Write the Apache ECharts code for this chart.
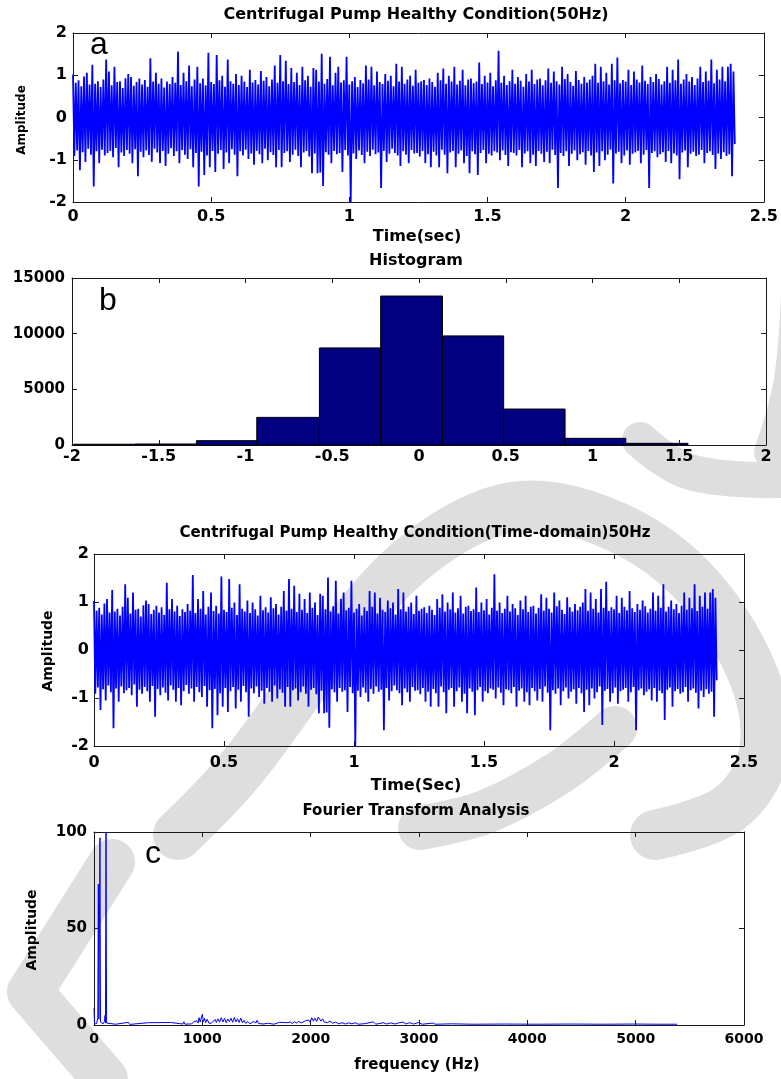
<!DOCTYPE html>
<html>
<head>
<meta charset="UTF-8">
<title>Centrifugal Pump Healthy Condition</title>
<script src="https://cdn.jsdelivr.net/npm/echarts@6/dist/echarts.min.js"></script>
<style>
html,body{margin:0;padding:0;background:#fff;}
#main{width:781px;height:1079px;}
</style>
</head>
<body>
<div id="main"></div>
<script>
// time signal: upper and lower extreme of each 0.01 s column
var sigStep = 0.01;
var sigHi = [
  1.02,0.82,0.88,0.74,0.97,1.06,0.78,1.25,0.80,0.86,
  0.72,0.90,1.37,1.09,0.76,1.20,0.84,0.86,0.70,0.93,
  1.03,0.96,0.75,0.84,0.92,0.78,0.89,0.73,1.40,0.85,
  1.06,0.80,0.92,0.71,0.85,0.79,0.96,0.82,1.56,0.77,
  1.06,0.86,1.23,0.74,0.90,1.20,0.81,0.92,0.76,1.53,
  0.84,0.79,1.48,0.88,0.99,0.73,1.37,0.86,0.80,1.03,
  0.77,0.99,0.85,0.72,1.13,0.83,0.89,0.78,1.10,0.87,
  0.96,0.74,0.90,1.23,0.82,1.48,0.86,1.34,0.79,1.17,
  0.84,1.06,0.77,1.20,0.88,0.99,0.73,1.17,1.13,0.85,
  1.51,0.80,0.91,1.44,0.76,1.06,1.20,0.83,0.88,1.44,
  0.78,0.86,0.96,0.72,0.89,0.81,1.23,0.90,1.20,0.76,
  1.09,0.84,0.79,1.03,0.87,0.99,0.74,1.27,0.85,1.20,
  0.80,0.90,0.99,0.75,1.13,0.82,0.86,0.89,0.77,0.92,
  0.84,0.73,1.06,0.88,1.16,0.80,0.99,0.85,1.20,0.78,
  0.87,1.13,0.76,0.90,0.92,0.81,0.85,1.30,0.79,0.99,
  0.83,1.06,0.74,0.88,1.58,0.82,0.99,0.77,0.86,1.13,
  0.80,0.96,0.87,0.73,1.03,0.85,1.13,0.79,0.90,0.92,
  0.76,0.88,1.16,0.82,1.09,0.86,0.78,1.20,0.91,1.03,
  0.84,0.75,1.10,0.89,0.80,0.96,0.83,0.90,0.99,1.27,
  0.82,1.20,0.86,1.06,0.78,1.27,0.88,1.42,0.81,0.89,
  0.85,1.13,0.77,1.09,0.90,0.83,1.23,0.87,0.79,0.96,
  0.84,1.03,0.91,0.78,0.86,1.20,0.82,1.13,0.88,1.37,
  0.80,0.90,1.03,0.85,0.96,0.77,0.92,1.20,0.84,1.09,
  0.87,1.37,0.81,1.13,0.90,1.20,0.86,1.20,1.27,1.09
];
var sigLo = [
  -0.91,-0.78,-1.25,-0.82,-1.05,-0.74,-0.88,-1.63,-0.80,-1.08,
  -0.76,-0.90,-0.84,-0.79,-0.94,-0.72,-1.18,-0.83,-0.91,-0.77,
  -0.86,-1.08,-0.75,-1.39,-0.81,-0.94,-0.78,-0.89,-1.05,-0.74,
  -0.83,-1.08,-0.79,-1.15,-0.86,-0.73,-0.91,-0.80,-1.08,-0.77,
  -0.88,-0.98,-0.75,-1.18,-0.84,-1.63,-0.81,-1.36,-0.90,-1.18,
  -0.79,-1.29,-0.86,-0.77,-1.22,-0.83,-1.08,-0.75,-0.88,-1.39,
  -0.80,-0.90,-0.76,-0.98,-0.85,-1.12,-0.79,-0.87,-1.08,-0.74,
  -1.01,-0.82,-0.89,-1.18,-0.77,-1.18,-0.84,-0.80,-1.05,-0.88,
  -0.76,-0.91,-1.18,-0.83,-0.79,-0.92,-1.32,-0.85,-1.32,-1.30,
  -1.62,-0.82,-0.88,-1.08,-0.79,-0.87,-0.84,-1.29,-0.77,-0.90,
  -2.00,-0.85,-0.98,-0.78,-0.89,-1.08,-0.81,-0.91,-0.76,-0.87,
  -0.83,-1.67,-0.79,-1.05,-0.86,-0.74,-0.84,-0.90,-1.15,-0.80,
  -0.88,-1.08,-0.77,-0.85,-0.84,-0.92,-0.79,-1.08,-0.87,-1.18,
  -0.81,-0.90,-1.18,-0.76,-0.88,-1.32,-0.83,-0.79,-1.18,-0.86,
  -0.78,-1.08,-0.91,-1.32,-0.80,-0.87,-1.36,-0.84,-0.77,-1.08,
  -0.86,-0.90,-0.80,-0.83,-1.01,-0.78,-0.89,-1.15,-0.82,-0.84,
  -0.90,-0.77,-1.18,-0.85,-0.80,-1.08,-0.88,-1.15,-0.79,-0.86,
  -1.05,-0.81,-1.08,-0.76,-0.89,-1.67,-0.84,-0.91,-0.80,-1.15,
  -0.86,-0.78,-1.01,-0.87,-0.82,-1.12,-0.79,-0.90,-1.29,-0.83,
  -1.15,-0.80,-1.01,-0.88,-0.76,-1.56,-0.85,-0.81,-1.08,-0.90,
  -0.78,-1.12,-0.86,-0.83,-0.79,-1.08,-0.88,-0.77,-1.67,-0.84,
  -0.80,-0.94,-0.87,-0.82,-1.05,-0.79,-1.08,-0.85,-0.90,-1.46,
  -0.83,-0.78,-1.18,-0.86,-0.81,-0.91,-0.88,-0.77,-1.08,-0.84,
  -0.80,-0.89,-1.22,-0.85,-0.98,-0.82,-0.91,-0.87,-1.39,-0.63
];

// histogram: bin edges and counts
var histEdges = [-1.99, -1.637, -1.283, -0.935, -0.574, -0.221, 0.135, 0.488, 0.842, 1.192, 1.55];
var histCounts = [70, 90, 390, 2480, 8720, 13380, 9800, 3230, 600, 150];

// spectrum: frequency (Hz) and amplitude
var fftFreq = [0,5,15,25,35,40,45,50,55,60,70,85,97,102,106,111,116,130,200,318,330,505,515,706,715,
  820,830,840,900,920,930,950,960,970,980,990,1000,1010,1020,1030,1045,1060,1080,1100,1110,1120,1130,
  1145,1160,1175,1190,1205,1220,1235,1250,1265,1280,1295,1310,1325,1340,1355,1370,1385,1400,1420,1440,
  1470,1485,1495,1505,1520,1560,1610,1660,1712,1730,1790,1810,1830,1850,1870,1890,1910,1930,1950,1965,
  1980,1995,2010,2025,2040,2055,2070,2085,2095,2110,2125,2140,2155,2180,2200,2230,2260,2290,2320,2350,
  2380,2410,2440,2500,2579,2600,2672,2700,2740,2780,2811,2853,2880,2914,2950,2995,3030,3131,3150,3300,
  3500,3800,4100,4400,4700,5000,5200,5383];
var fftAmp = [8.7,0.5,1.0,0.8,4.0,73,3.0,2.0,97,1.5,0.8,0.6,2.0,5.0,1.0,100,1.0,0.5,0.4,1.4,0.3,1.2,0.3,1.3,0.3,
  0.5,1.7,0.4,0.6,1.5,0.7,2.2,1.0,3.8,1.5,2.5,5.6,1.8,3.5,1.2,3.0,1.0,0.8,2.0,1.0,2.8,1.3,
  3.2,1.5,3.8,1.6,3.4,1.2,3.1,1.7,3.5,1.4,3.9,1.6,3.2,1.3,3.6,1.1,2.4,0.9,1.8,0.6,
  1.8,2.6,1.1,2.4,0.8,0.5,0.9,0.4,1.4,0.4,1.2,1.6,0.8,1.7,1.0,1.9,1.1,1.5,2.2,1.2,
  2.6,1.5,3.8,2.0,3.5,1.8,4.1,5.0,2.0,3.2,1.5,2.4,1.2,2.1,0.9,1.5,0.6,1.2,0.5,1.1,
  0.6,1.2,0.4,0.7,1.6,0.4,1.2,0.5,1.1,0.5,1.1,1.5,0.5,1.2,0.5,1.3,0.4,1.0,0.4,0.6,
  0.4,0.5,0.4,0.5,0.4,0.5,0.4,0.4];

var sigData = [];
for (var i = 0; i < sigHi.length; i++) {
  sigData.push([i * sigStep, sigHi[i]]);
  sigData.push([i * sigStep + sigStep / 2, sigLo[i]]);
}
var histData = [];
for (var j = 0; j < histCounts.length; j++) {
  histData.push([histEdges[j], histEdges[j + 1], histCounts[j]]);
}
var fftData = [];
for (var k = 0; k < fftFreq.length; k++) {
  fftData.push([fftFreq[k], fftAmp[k]]);
}

var frameColor = '#1a1a1a';
var boldFont = 'DejaVu Sans';

function axisPair(dir, gi, min, max, step, fontSize, margin) {
  var base = {
    type: 'value', gridIndex: gi, min: min, max: max, interval: step,
    axisLine: { onZero: false, lineStyle: { color: frameColor, width: 1 } },
    axisTick: { inside: true, length: 5, lineStyle: { color: frameColor } },
    splitLine: { show: false }
  };
  var a = Object.assign({}, base, {
    position: dir == 'x' ? 'bottom' : 'left',
    axisLabel: {
      color: '#000', fontFamily: boldFont, fontWeight: 'bold', fontSize: fontSize, margin: margin,
      formatter: function (v) { return String(v); }
    }
  });
  var b = Object.assign({}, base, {
    position: dir == 'x' ? 'top' : 'right',
    axisLabel: { show: false }
  });
  return [a, b];
}

var xAxes = [].concat(
  axisPair('x', 0, 0, 2.5, 0.5, 16, 7),
  axisPair('x', 1, -2, 2, 0.5, 16, 4),
  axisPair('x', 2, 0, 2.5, 0.5, 16, 9),
  axisPair('x', 3, 0, 6000, 1000, 14, 7)
);
var yAxes = [].concat(
  axisPair('y', 0, -2, 2, 1, 16, 6),
  axisPair('y', 1, 0, 15000, 5000, 15, 7),
  axisPair('y', 2, -2, 2, 1, 16, 5),
  axisPair('y', 3, 0, 100, 50, 15, 7)
);

function label(text, x, y, size, opts) {
  opts = opts || {};
  return {
    type: 'text', x: x, y: y, z: 100, silent: true,
    rotation: opts.rotate ? Math.PI / 2 : 0,
    style: {
      text: text,
      fill: '#000',
      font: (opts.normal ? '' : 'bold ') + size + 'px ' + (opts.family || boldFont),
      textAlign: 'center',
      textVerticalAlign: opts.valign || 'middle'
    }
  };
}

function band(points, width, smooth) {
  return {
    type: 'polyline', z: -10, silent: true,
    shape: { points: points, smooth: smooth },
    style: { stroke: '#dedede', lineWidth: width, fill: null, lineCap: 'round', lineJoin: 'round' }
  };
}

var myChart = echarts.init(document.getElementById('main'));
var option = {
  backgroundColor: '#fff',
  animation: false,
  grid: [
    { left: 73, top: 33, width: 694, height: 169 },
    { left: 72, top: 278, width: 694, height: 167 },
    { left: 94, top: 554, width: 650, height: 192 },
    { left: 94, top: 832, width: 650, height: 193 }
  ],
  xAxis: xAxes,
  yAxis: yAxes,
  graphic: [
    // faint background watermark
    band([[178, 835], [240, 770], [330, 650], [420, 553], [513, 507], [605, 522], [690, 578], [752, 672], [764, 752], [730, 808], [655, 835]], 50, 0.35),
    band([[112, 862], [30, 992], [105, 1079]], 46, 0),
    band([[615, 728], [560, 772], [485, 812], [420, 828]], 44, 0.3),
    band([[640, 440], [690, 472], [781, 480]], 36, 0.4),
    band([[800, 262], [792, 380], [772, 452]], 36, 0.4),
    label('Centrifugal Pump Healthy Condition(50Hz)', 416, 15, 16),
    label('Amplitude', 22, 120, 12, { rotate: true }),
    label('Time(sec)', 417, 237, 16),
    label('a', 99, 61, 32, { normal: true, family: 'Liberation Sans', valign: 'bottom' }),
    label('Histogram', 416, 261, 16),
    label('b', 108, 317, 32, { normal: true, family: 'Liberation Sans', valign: 'bottom' }),
    label('Centrifugal Pump Healthy Condition(Time-domain)50Hz', 415, 533, 15),
    label('Amplitude', 48, 651, 14, { rotate: true }),
    label('Time(Sec)', 416, 786, 16),
    label('Fourier Transform Analysis', 416, 811, 15),
    label('c', 153, 870, 32, { normal: true, family: 'Liberation Sans', valign: 'bottom' }),
    label('Amplitude', 32, 930, 14, { rotate: true }),
    label('frequency (Hz)', 417, 1065, 15)
  ],
  series: [
    {
      type: 'line', xAxisIndex: 0, yAxisIndex: 0, data: sigData,
      symbol: 'none', silent: true, lineStyle: { color: '#0000ff', width: 1.8 }
    },
    {
      type: 'custom', xAxisIndex: 2, yAxisIndex: 2, data: histData, silent: true,
      renderItem: function (params, api) {
        var p0 = api.coord([api.value(0), api.value(2)]);
        var p1 = api.coord([api.value(1), 0]);
        return {
          type: 'rect',
          shape: { x: p0[0], y: p0[1], width: p1[0] - p0[0], height: p1[1] - p0[1] },
          style: { fill: '#000080', stroke: '#000', lineWidth: 1 }
        };
      }
    },
    {
      type: 'line', xAxisIndex: 4, yAxisIndex: 4, data: sigData,
      symbol: 'none', silent: true, lineStyle: { color: '#0000ff', width: 1.8 }
    },
    {
      type: 'line', xAxisIndex: 6, yAxisIndex: 6, data: fftData,
      symbol: 'none', silent: true, lineStyle: { color: '#0000ff', width: 1 }
    }
  ]
};
myChart.setOption(option);
</script>
</body>
</html>
